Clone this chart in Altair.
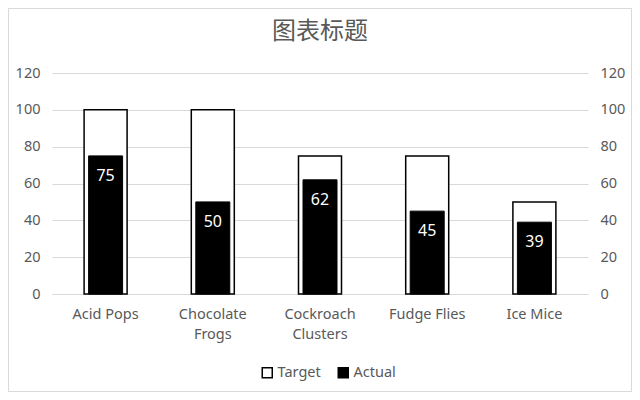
import altair as alt
import pandas as pd

categories = ["Acid Pops", "Chocolate Frogs", "Cockroach Clusters", "Fudge Flies", "Ice Mice"]
target = [100, 100, 75, 75, 50]
actual = [75, 50, 62, 45, 39]
y_ticks = [0, 20, 40, 60, 80, 100, 120]

rows = []
for c, t, a in zip(categories, target, actual):
    rows.append({"cat": c, "series": "Target", "value": t})
    rows.append({"cat": c, "series": "Actual", "value": a})
df = pd.DataFrame(rows)

GREY = "#595959"
FONT = "Noto Sans"

W, H = 536, 221
PL, PT, PR, PB = 44, 65, 44, 98

x_enc = alt.X(
    "cat:N",
    sort=categories,
    scale=alt.Scale(paddingInner=0, paddingOuter=0),
    axis=alt.Axis(
        title=None,
        labelAngle=0,
        labelExpr="datum.label == 'Chocolate Frogs' || datum.label == 'Cockroach Clusters' ? split(datum.label, ' ') : datum.label",
        labelLineHeight=20,
        labelPadding=13,
        labelFontSize=14.5,
        labelFont=FONT,
        labelColor=GREY,
        ticks=False,
        domainColor="#d9d9d9",
        domainWidth=1,
        grid=False,
    ),
)

y_scale = alt.Scale(domain=[0, 120])
fill_enc = alt.Fill(
    "series:N",
    scale=alt.Scale(domain=["Target", "Actual"], range=["white", "black"]),
    legend=alt.Legend(
        title=None,
        orient="none",
        direction="horizontal",
        legendX=208,
        legendY=292,
        symbolType="square",
        symbolSize=100,
        symbolStrokeColor="black",
        symbolStrokeWidth=1.5,
        labelFont=FONT,
        labelFontSize=14.5,
        labelColor=GREY,
        columnPadding=14,
        labelOffset=3,
    ),
)

base = alt.Chart(df)

target_bars = base.transform_filter(alt.datum.series == "Target").mark_bar(
    size=43, stroke="black", strokeWidth=1.5
).encode(
    x=x_enc,
    y=alt.Y(
        "value:Q",
        scale=y_scale,
        axis=alt.Axis(
            title=None,
            values=y_ticks,
            orient="left",
            grid=True,
            gridColor="#d9d9d9",
            gridWidth=1,
            domain=False,
            ticks=False,
            labelPadding=12,
            labelFontSize=14.5,
            labelFont=FONT,
            labelColor=GREY,
        ),
    ),
    fill=fill_enc,
)

actual_bars = base.transform_filter(alt.datum.series == "Actual").mark_bar(
    size=34, stroke="black", strokeWidth=1
).encode(
    x=x_enc,
    y=alt.Y(
        "value:Q",
        scale=y_scale,
        axis=alt.Axis(
            title=None,
            values=y_ticks,
            orient="right",
            grid=False,
            domain=False,
            ticks=False,
            labelPadding=12,
            labelFontSize=14.5,
            labelFont=FONT,
            labelColor=GREY,
        ),
    ),
    fill=fill_enc,
)

labels = base.transform_filter(alt.datum.series == "Actual").mark_text(
    color="white", fontSize=16, font=FONT, baseline="middle", dy=20
).encode(
    x=x_enc,
    y=alt.Y("value:Q", scale=y_scale, axis=None),
    text="value:Q",
)

border = alt.Chart(pd.DataFrame({"b": [0]})).mark_rect(
    fill=None, stroke="#d9d9d9", strokeWidth=1
).encode(
    x=alt.value(-PL + 0.5),
    x2=alt.value(W + PR - 0.5),
    y=alt.value(-PT + 0.5),
    y2=alt.value(H + PB - 0.5),
)

chart = alt.layer(target_bars, actual_bars, labels, border).resolve_axis(
    y="independent"
).properties(
    width=W,
    height=H,
    padding={"left": PL, "top": PT, "right": PR, "bottom": PB},
    autosize=alt.AutoSizeParams(type="none"),
    background="white",
    title=alt.TitleParams(
        "图表标题",
        font="Noto Sans CJK SC",
        fontSize=24,
        fontWeight="normal",
        color=GREY,
        anchor="middle",
        offset=-36,
    ),
).configure_view(stroke=None)

chart.save("out.html", embed_options={"renderer": "svg", "actions": False})
